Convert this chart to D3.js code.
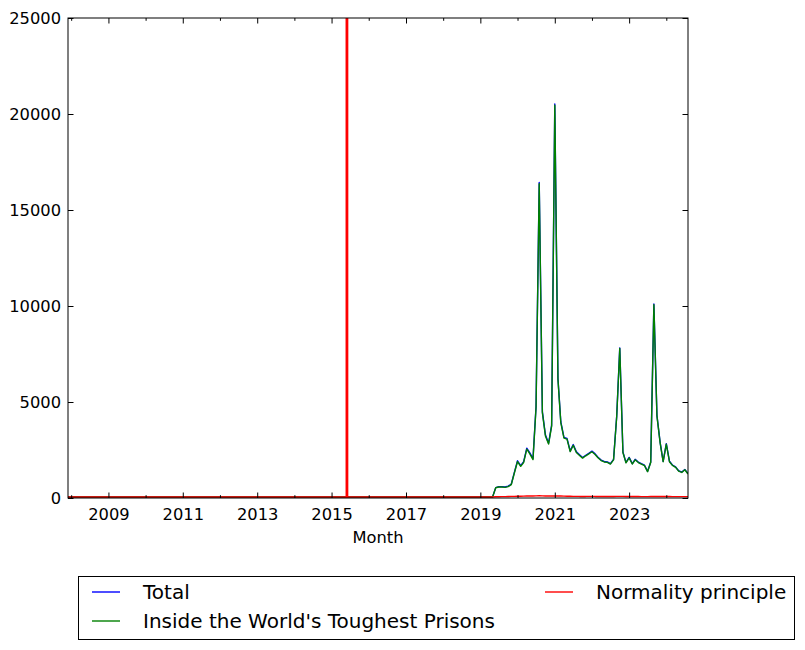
<!DOCTYPE html>
<html>
<head>
  <meta charset="utf-8">
  <title>Monthly views</title>
  <script src="https://d3js.org/d3.v7.min.js"></script>
  <style>
    body { margin: 0; background: #fff; }
    text { font-family: "DejaVu Sans", sans-serif; fill: #000; }
  </style>
</head>
<body>
  <svg id="chart" width="805" height="650"></svg>

  <script>
    // months 2007-12 .. 2024-08
    const firstMonth = "2007-12-01";
    const lastMonth = "2024-08-01";
    const markerMonth = "2015-06-01";

    // 2007-12 .. 2019-04 : nothing recorded
    const zeros = [
      0,
      0, 0, 0, 0, 0, 0, 0, 0, 0, 0, 0, 0,
      0, 0, 0, 0, 0, 0, 0, 0, 0, 0, 0, 0,
      0, 0, 0, 0, 0, 0, 0, 0, 0, 0, 0, 0,
      0, 0, 0, 0, 0, 0, 0, 0, 0, 0, 0, 0,
      0, 0, 0, 0, 0, 0, 0, 0, 0, 0, 0, 0,
      0, 0, 0, 0, 0, 0, 0, 0, 0, 0, 0, 0,
      0, 0, 0, 0, 0, 0, 0, 0, 0, 0, 0, 0,
      0, 0, 0, 0, 0, 0, 0, 0, 0, 0, 0, 0,
      0, 0, 0, 0, 0, 0, 0, 0, 0, 0, 0, 0,
      0, 0, 0, 0, 0, 0, 0, 0, 0, 0, 0, 0,
      0, 0, 0, 0, 0, 0, 0, 0, 0, 0, 0, 0,
      0, 0, 0, 0
    ];

    // 2019-05 .. 2024-08
    const insideValues = [
      0, 480, 520, 520, 500, 540, 650, 1250,
      1850, 1600, 1800, 2500, 2250, 1950, 4680, 16350, 4400, 3190, 2760, 3700,
      20450, 6140, 3880, 3070, 3020, 2370, 2700, 2320, 2170, 2030, 2150, 2250,
      2360, 2220, 2050, 1900, 1830, 1810, 1720, 1940, 4200, 7750, 2320, 1780,
      2040, 1720, 1940, 1800, 1720, 1640, 1320, 1800, 10040, 4230, 2840, 1840,
      2760, 1840, 1650, 1550, 1350, 1280, 1420, 1200
    ];
    const normalityValues = [
      0, 10, 15, 20, 20, 25, 30, 35,
      40, 40, 45, 50, 50, 55, 60, 70, 60, 55, 50, 55,
      60, 55, 50, 45, 40, 40, 35, 35, 30, 30, 30, 35,
      35, 30, 30, 30, 25, 25, 25, 25, 30, 35, 30, 25,
      25, 25, 25, 25, 20, 20, 20, 25, 30, 30, 25, 25,
      25, 25, 20, 20, 20, 20, 20, 20
    ];
    const totalValues = [
      0, 490, 535, 540, 520, 565, 680, 1285,
      1890, 1640, 1845, 2550, 2300, 2005, 4740, 16420, 4460, 3245, 2810, 3755,
      20510, 6195, 3930, 3115, 3060, 2410, 2735, 2355, 2200, 2060, 2180, 2285,
      2395, 2250, 2080, 1930, 1855, 1835, 1745, 1965, 4230, 7785, 2350, 1805,
      2065, 1745, 1965, 1825, 1740, 1660, 1340, 1825, 10070, 4260, 2865, 1865,
      2785, 1865, 1670, 1570, 1370, 1300, 1440, 1220
    ];

    const yTicks = [0, 5000, 10000, 15000, 20000, 25000];
    const xTickYears = [2009, 2011, 2013, 2015, 2017, 2019, 2021, 2023];
    const seriesNames = ["Total", "Inside the World's Toughest Prisons", "Normality principle"];
    const seriesColors = ["#0000ff", "#008000", "#ff0000"];

    const svg = d3.select("#chart");
    const plotL = 68, plotR = 688, plotT = 18, plotB = 498;

    const months = d3.utcMonth.range(new Date(firstMonth), d3.utcMonth.offset(new Date(lastMonth), 1));

    const x = d3.scaleUtc()
      .domain([new Date(firstMonth), new Date(lastMonth)])
      .range([plotL, plotR]);
    const y = d3.scaleLinear().domain([0, 25000]).range([plotB - 1, plotT]);

    svg.append("rect").attr("width", 805).attr("height", 650).attr("fill", "#fff");

    svg.append("clipPath").attr("id", "plotArea")
      .append("rect")
      .attr("x", plotL).attr("y", plotT)
      .attr("width", plotR - plotL).attr("height", plotB - plotT);

    const line = d3.line()
      .x((d, i) => x(months[i]))
      .y(d => y(d));

    const plot = svg.append("g").attr("clip-path", "url(#plotArea)");
    [totalValues, insideValues, normalityValues].forEach((vals, k) => {
      plot.append("path")
        .datum(zeros.concat(vals))
        .attr("fill", "none")
        .attr("stroke", seriesColors[k])
        .attr("stroke-width", 1.4)
        .attr("stroke-linejoin", "round")
        .attr("d", line);
    });

    plot.append("line")
      .attr("x1", x(new Date(markerMonth))).attr("x2", x(new Date(markerMonth)))
      .attr("y1", plotT).attr("y2", plotB)
      .attr("stroke", "#ff0000")
      .attr("stroke-width", 2.8);

    // ticks, inward on all four sides
    const majorX = xTickYears.map(yr => new Date(Date.UTC(yr, 0, 1)));
    const minorX = d3.range(2008, 2025).filter(yr => yr % 2 === 0).map(yr => new Date(Date.UTC(yr, 0, 1)));

    svg.append("g").attr("transform", `translate(0,${plotB})`)
      .call(d3.axisBottom(x).tickValues(majorX).tickSize(-5.5).tickPadding(10).tickFormat(d3.utcFormat("%Y")));
    svg.append("g").attr("transform", `translate(0,${plotB})`)
      .call(d3.axisBottom(x).tickValues(minorX).tickSize(-2.8).tickFormat(""));
    svg.append("g").attr("transform", `translate(0,${plotT})`)
      .call(d3.axisTop(x).tickValues(majorX).tickSize(-5.5).tickFormat(""));
    svg.append("g").attr("transform", `translate(0,${plotT})`)
      .call(d3.axisTop(x).tickValues(minorX).tickSize(-2.8).tickFormat(""));
    svg.append("g").attr("transform", `translate(${plotL},0)`)
      .call(d3.axisLeft(y.copy().range([plotB, plotT])).tickValues(yTicks).tickSize(-5.5).tickPadding(7).tickFormat(d3.format("d")));
    svg.append("g").attr("transform", `translate(${plotR},0)`)
      .call(d3.axisRight(y.copy().range([plotB, plotT])).tickValues(yTicks).tickSize(-5.5).tickFormat(""));

    svg.selectAll(".domain").remove();
    svg.selectAll(".tick line").attr("stroke", "#000").attr("stroke-width", 1);
    svg.selectAll(".tick text").attr("font-size", 16.3).attr("font-family", "DejaVu Sans").attr("fill", "#000");

    svg.append("rect")
      .attr("x", plotL).attr("y", plotT)
      .attr("width", plotR - plotL).attr("height", plotB - plotT)
      .attr("fill", "none").attr("stroke", "#000").attr("stroke-width", 1);

    svg.append("text")
      .attr("x", (plotL + plotR) / 2).attr("y", 543)
      .attr("text-anchor", "middle")
      .attr("font-size", 16.3)
      .text("Month");

    // legend
    const legend = svg.append("g");
    legend.append("rect")
      .attr("x", 78.5).attr("y", 576.5).attr("width", 716).attr("height", 63)
      .attr("fill", "#fff").attr("stroke", "#000").attr("stroke-width", 1);
    const legendPos = [[92, 592], [92, 621], [545, 592]];
    seriesNames.forEach((name, k) => {
      const [lx, ly] = legendPos[k];
      legend.append("line")
        .attr("x1", lx).attr("x2", lx + 28).attr("y1", ly).attr("y2", ly)
        .attr("stroke", seriesColors[k]).attr("stroke-width", 1.4);
      legend.append("text")
        .attr("x", lx + 51).attr("y", ly + 7)
        .attr("font-size", 20)
        .text(name);
    });
  </script>
</body>
</html>
